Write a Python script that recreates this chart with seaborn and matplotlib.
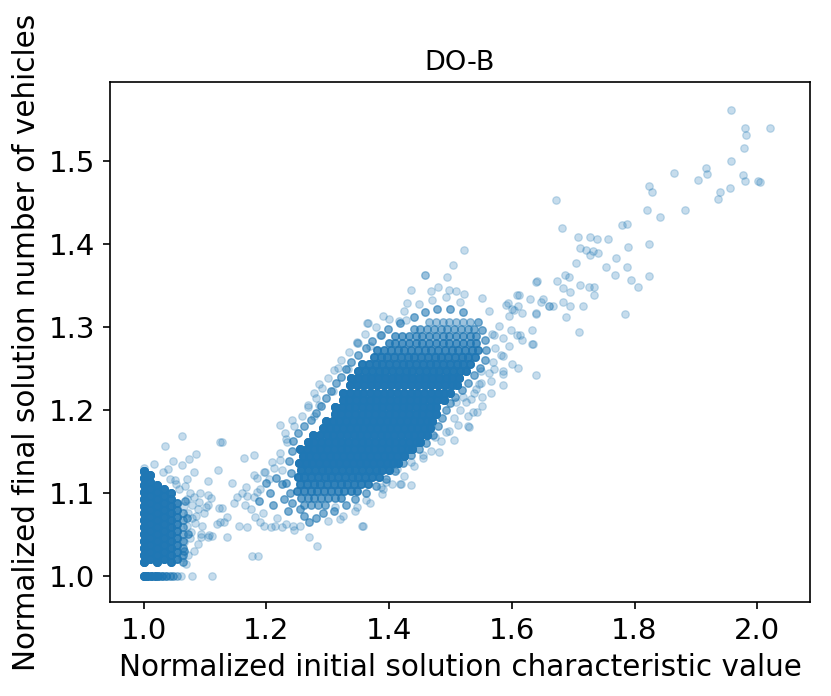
import numpy as np
import pandas as pd
import matplotlib
matplotlib.use("Agg")
import matplotlib.pyplot as plt
import seaborn as sns

# ---------------- data ----------------
# Dense core of the main cloud: one y level per row, x positions per row, overlap count per row
core_y = [1.085, 1.0935, 1.102, 1.1105, 1.119, 1.1275, 1.136, 1.1445, 1.153, 1.1615,
          1.170, 1.1785, 1.187, 1.1955, 1.204, 1.2125, 1.221, 1.2295, 1.238, 1.2465,
          1.255, 1.2635, 1.272, 1.2805, 1.289, 1.2975, 1.306]
core_x = [
    [1.262, 1.273, 1.284, 1.295],
    [1.256, 1.267, 1.278, 1.289, 1.300, 1.311, 1.322],
    [1.250, 1.261, 1.272, 1.283, 1.294, 1.305, 1.316, 1.327, 1.338, 1.348],
    [1.255, 1.266, 1.277, 1.288, 1.299, 1.310, 1.321, 1.332, 1.343, 1.354, 1.365],
    [1.251, 1.262, 1.273, 1.284, 1.295, 1.306, 1.317, 1.328, 1.339, 1.350, 1.361, 1.372, 1.383],
    [1.257, 1.268, 1.279, 1.290, 1.301, 1.312, 1.323, 1.334, 1.345, 1.356, 1.367, 1.378, 1.389, 1.400],
    [1.253, 1.264, 1.275, 1.286, 1.297, 1.308, 1.319, 1.330, 1.341, 1.352, 1.363, 1.374, 1.385, 1.396, 1.407, 1.415],
    [1.259, 1.270, 1.281, 1.292, 1.303, 1.314, 1.325, 1.336, 1.347, 1.358, 1.369, 1.380, 1.391, 1.402, 1.413, 1.424],
    [1.255, 1.266, 1.277, 1.288, 1.299, 1.310, 1.321, 1.332, 1.343, 1.354, 1.365, 1.376, 1.387, 1.398, 1.409, 1.420, 1.431, 1.438],
    [1.267, 1.278, 1.289, 1.300, 1.311, 1.322, 1.333, 1.344, 1.355, 1.366, 1.377, 1.388, 1.399, 1.410, 1.421, 1.432, 1.443, 1.450],
    [1.276, 1.287, 1.298, 1.309, 1.320, 1.331, 1.342, 1.353, 1.364, 1.375, 1.386, 1.397, 1.408, 1.419, 1.430, 1.441, 1.452, 1.461],
    [1.292, 1.303, 1.314, 1.325, 1.336, 1.347, 1.358, 1.369, 1.380, 1.391, 1.402, 1.413, 1.424, 1.435, 1.446, 1.457, 1.466],
    [1.297, 1.308, 1.319, 1.330, 1.341, 1.352, 1.363, 1.374, 1.385, 1.396, 1.407, 1.418, 1.429, 1.440, 1.451, 1.462, 1.470],
    [1.311, 1.322, 1.333, 1.344, 1.355, 1.366, 1.377, 1.388, 1.399, 1.410, 1.421, 1.432, 1.443, 1.454, 1.465, 1.476],
    [1.312, 1.323, 1.334, 1.345, 1.356, 1.367, 1.378, 1.389, 1.400, 1.411, 1.422, 1.433, 1.444, 1.455, 1.466, 1.477],
    [1.324, 1.335, 1.346, 1.357, 1.368, 1.379, 1.390, 1.401, 1.412, 1.423, 1.434, 1.445, 1.456, 1.467, 1.478, 1.489],
    [1.325, 1.336, 1.347, 1.358, 1.369, 1.380, 1.391, 1.402, 1.413, 1.424, 1.435, 1.446, 1.457, 1.468, 1.479, 1.490, 1.500],
    [1.337, 1.348, 1.359, 1.370, 1.381, 1.392, 1.403, 1.414, 1.425, 1.436, 1.447, 1.458, 1.469, 1.480, 1.491, 1.502, 1.510],
    [1.338, 1.349, 1.360, 1.371, 1.382, 1.393, 1.404, 1.415, 1.426, 1.437, 1.448, 1.459, 1.470, 1.481, 1.492, 1.503, 1.514],
    [1.350, 1.361, 1.372, 1.383, 1.394, 1.405, 1.416, 1.427, 1.438, 1.449, 1.460, 1.471, 1.482, 1.493, 1.504, 1.515, 1.526],
    [1.356, 1.367, 1.378, 1.389, 1.400, 1.411, 1.422, 1.433, 1.444, 1.455, 1.466, 1.477, 1.488, 1.499, 1.510, 1.521, 1.532],
    [1.375, 1.386, 1.397, 1.408, 1.419, 1.430, 1.441, 1.452, 1.463, 1.474, 1.485, 1.496, 1.507, 1.518, 1.529, 1.540],
    [1.381, 1.392, 1.403, 1.414, 1.425, 1.436, 1.447, 1.458, 1.469, 1.480, 1.491, 1.502, 1.513, 1.524, 1.535, 1.545],
    [1.399, 1.410, 1.421, 1.432, 1.443, 1.454, 1.465, 1.476, 1.487, 1.498, 1.509, 1.520, 1.531, 1.542],
    [1.410, 1.421, 1.432, 1.443, 1.454, 1.465, 1.476, 1.487, 1.498, 1.509, 1.520, 1.531, 1.542],
    [1.440, 1.451, 1.462, 1.473, 1.484, 1.495, 1.506, 1.517, 1.528, 1.539],
    [1.465, 1.476, 1.487, 1.498, 1.509, 1.520, 1.531],
]
core_n = [3, 4, 6, 8, 10, 12, 14, 14, 14, 14, 14, 14, 14, 14, 14, 14, 14, 14, 14, 12, 10, 8, 6, 5, 4, 3, 2]

# Cluster at x ~ 1.0: one x per column, y positions per column, overlap count per column
lc_x = [1.000, 1.011, 1.022, 1.033, 1.044, 1.055, 1.064]
lc_y = [
    [1.016, 1.0245, 1.033, 1.0415, 1.050, 1.0585, 1.067, 1.0755, 1.084, 1.0925, 1.101, 1.1095, 1.118, 1.126],
    [1.020, 1.0285, 1.037, 1.0455, 1.054, 1.0625, 1.071, 1.0795, 1.088, 1.0965, 1.105, 1.1135, 1.121],
    [1.016, 1.0245, 1.033, 1.0415, 1.050, 1.0585, 1.067, 1.0755, 1.084, 1.0925, 1.101, 1.1095],
    [1.020, 1.0285, 1.037, 1.0455, 1.054, 1.0625, 1.071, 1.0795, 1.088, 1.0965, 1.105],
    [1.016, 1.0245, 1.033, 1.0415, 1.050, 1.0585, 1.067, 1.0755, 1.084, 1.0925, 1.100],
    [1.020, 1.0285, 1.037, 1.0455, 1.054, 1.0625, 1.071, 1.0795, 1.088],
    [1.016, 1.0245, 1.033, 1.0415, 1.050, 1.0585, 1.067, 1.0755],
]
lc_n = [16, 14, 14, 13, 11, 7, 3]

# Row of points at y = 1.0
base_x = [1.000, 1.006, 1.012, 1.018, 1.024, 1.030, 1.036, 1.042, 1.048, 1.054, 1.060, 1.078, 1.112]
base_n = [14, 12, 10, 9, 8, 6, 5, 3, 3, 2, 1, 1, 1]

# Medium-density ring around the core (three overlaps each)
ring_x = [1.238, 1.232, 1.240, 1.236, 1.241, 1.244, 1.252, 1.262, 1.272, 1.281, 1.289, 1.297, 1.305, 1.314,
          1.322, 1.329, 1.338, 1.349, 1.362, 1.372, 1.386, 1.398, 1.418, 1.440, 1.458, 1.478, 1.500, 1.520,
          1.310, 1.330, 1.345, 1.362, 1.378, 1.395, 1.410, 1.422, 1.436, 1.448, 1.460, 1.472, 1.480, 1.486,
          1.492, 1.500, 1.508, 1.518, 1.528, 1.538, 1.548, 1.556, 1.558, 1.557, 1.552, 1.545,
          1.188, 1.205, 1.210, 1.225, 1.228, 1.235, 1.242, 1.255, 1.262, 1.270, 1.280, 1.292, 1.215, 1.200,
          1.068, 1.072, 1.070, 1.066]
ring_y = [1.100, 1.112, 1.124, 1.138, 1.150, 1.162, 1.172, 1.180, 1.188, 1.196, 1.205, 1.214, 1.223, 1.232,
          1.240, 1.249, 1.258, 1.266, 1.275, 1.283, 1.291, 1.298, 1.305, 1.312, 1.318, 1.322, 1.322, 1.318,
          1.078, 1.085, 1.092, 1.100, 1.108, 1.117, 1.126, 1.136, 1.145, 1.153, 1.160, 1.170, 1.180, 1.190,
          1.200, 1.208, 1.216, 1.224, 1.233, 1.242, 1.250, 1.260, 1.272, 1.284, 1.296, 1.306,
          1.090, 1.100, 1.085, 1.110, 1.092, 1.078, 1.088, 1.080, 1.072, 1.065, 1.070, 1.075, 1.118, 1.112,
          1.090, 1.050, 1.070, 1.030]

# Single, loosely scattered points
single_x = [
    # tail towards x = 2
    1.958, 1.980, 2.021, 1.982, 1.979, 1.957, 1.916, 1.918, 1.865, 1.903, 1.976, 1.980, 2.002, 2.004,
    1.955, 1.940, 1.936, 1.824, 1.828, 1.821, 1.882, 1.842, 1.672, 1.681, 1.779, 1.787, 1.708, 1.727,
    1.739, 1.756, 1.823, 1.789, 1.711, 1.721, 1.732, 1.727, 1.741, 1.705, 1.754, 1.770, 1.787, 1.768,
    1.824, 1.794, 1.806, 1.687, 1.693, 1.673, 1.641, 1.711, 1.725, 1.734, 1.684, 1.695, 1.734, 1.629,
    1.651, 1.647, 1.609, 1.593, 1.603, 1.610, 1.661, 1.667, 1.683, 1.695, 1.716, 1.640, 1.688, 1.784,
    1.595, 1.633, 1.710, 1.579, 1.598, 1.585, 1.609, 1.617, 1.634, 1.595, 1.583, 1.601, 1.610, 1.639,
    1.585, 1.585,
    # fringe of the main cloud
    1.436, 1.429, 1.390, 1.364, 1.416, 1.428, 1.385, 1.348, 1.368, 1.317, 1.333, 1.286, 1.278, 1.268,
    1.285, 1.309, 1.277, 1.241, 1.222, 1.230, 1.233, 1.128, 1.164, 1.180, 1.121, 1.105, 1.144, 1.166,
    1.179, 1.196, 1.209, 1.204, 1.185, 1.169, 1.152, 1.147, 1.105, 1.104, 1.123, 1.136, 1.120, 1.131,
    1.155, 1.169, 1.182, 1.196, 1.136, 1.106, 1.093, 1.088, 1.176, 1.186, 1.214, 1.225, 1.244, 1.255,
    1.269, 1.283, 1.325, 1.357, 1.312, 1.347, 1.363, 1.390, 1.420, 1.436, 1.412,
    1.522, 1.504, 1.458, 1.495, 1.479, 1.468, 1.498, 1.509, 1.522, 1.611, 1.660, 1.552, 1.590, 1.601,
    1.639, 1.617, 1.563, 1.613, 1.633, 1.571, 1.585, 1.571, 1.585, 1.566, 1.549, 1.547, 1.566, 1.541,
    1.551, 1.533, 1.551, 1.536, 1.544, 1.528, 1.512, 1.528, 1.509, 1.520,
    1.482, 1.505, 1.493, 1.530, 1.474, 1.455, 1.436, 1.417, 1.395, 1.387, 1.355, 1.639, 1.366, 1.459, 1.350,
    1.225, 1.222, 1.232, 1.245, 1.258, 1.268, 1.280, 1.290, 1.300, 1.310, 1.322, 1.335, 1.348, 1.360,
    1.378, 1.400, 1.425, 1.448, 1.470, 1.492, 1.515,
    1.320, 1.345, 1.368, 1.388, 1.405, 1.425, 1.440, 1.455, 1.468, 1.485, 1.498, 1.505, 1.515, 1.525,
    1.538, 1.550, 1.562, 1.570, 1.572, 1.568,
    1.175, 1.195, 1.218, 1.190, 1.180, 1.165, 1.160, 1.212, 1.222, 1.198, 1.185, 1.245, 1.232, 1.208,
    1.190, 1.300,
    # fringe of the cluster at x ~ 1.0
    1.063, 1.034, 1.017, 1.048, 1.085, 1.073, 1.063, 1.124, 1.082, 1.039, 1.032, 1.071, 1.051, 1.042,
    1.110, 1.101, 1.128, 1.090, 1.085, 1.125, 1.093, 1.112, 1.104, 1.077, 1.079, 1.069,
    1.068, 1.075, 1.070, 1.082, 1.066, 1.078, 1.088, 1.072, 1.084, 1.070, 1.076, 1.066, 1.082, 1.072,
    1.062, 1.058, 1.052, 1.095, 1.098, 1.091, 1.000, 1.000,
]
single_y = [
    1.5625, 1.541, 1.541, 1.532, 1.516, 1.500, 1.492, 1.485, 1.486, 1.478, 1.484, 1.476, 1.476, 1.475,
    1.468, 1.463, 1.455, 1.471, 1.463, 1.441, 1.441, 1.433, 1.453, 1.420, 1.423, 1.425, 1.409, 1.409,
    1.406, 1.406, 1.400, 1.397, 1.395, 1.393, 1.392, 1.387, 1.389, 1.377, 1.372, 1.383, 1.372, 1.363,
    1.362, 1.357, 1.348, 1.363, 1.360, 1.356, 1.356, 1.351, 1.348, 1.348, 1.347, 1.342, 1.339, 1.334,
    1.334, 1.330, 1.339, 1.329, 1.321, 1.326, 1.325, 1.325, 1.330, 1.325, 1.325, 1.316, 1.312, 1.316,
    1.313, 1.297, 1.294, 1.301, 1.297, 1.287, 1.290, 1.285, 1.279, 1.277, 1.266, 1.255, 1.251, 1.242,
    1.247, 1.230,
    1.345, 1.329, 1.313, 1.305, 1.307, 1.309, 1.291, 1.281, 1.277, 1.251, 1.249, 1.231, 1.220, 1.206,
    1.206, 1.223, 1.193, 1.188, 1.182, 1.172, 1.161, 1.161, 1.142, 1.145, 1.128, 1.114, 1.112, 1.107,
    1.121, 1.125, 1.137, 1.117, 1.101, 1.096, 1.095, 1.088, 1.097, 1.085, 1.081, 1.071, 1.062, 1.065,
    1.060, 1.059, 1.071, 1.060, 1.047, 1.049, 1.050, 1.038, 1.024, 1.024, 1.060, 1.059, 1.060, 1.060,
    1.047, 1.036, 1.072, 1.060, 1.083, 1.083, 1.091, 1.105, 1.111, 1.109, 1.129,
    1.393, 1.375, 1.363, 1.360, 1.349, 1.343, 1.345, 1.343, 1.340, 1.339, 1.326, 1.335, 1.327, 1.322,
    1.317, 1.317, 1.319, 1.290, 1.280, 1.291, 1.265, 1.249, 1.243, 1.235, 1.247, 1.231, 1.220, 1.225,
    1.215, 1.213, 1.205, 1.197, 1.197, 1.193, 1.182, 1.181, 1.209, 1.215,
    1.149, 1.164, 1.173, 1.179, 1.167, 1.145, 1.137, 1.111, 1.113, 1.107, 1.060, 1.355, 1.305, 1.363, 1.281,
    1.128, 1.148, 1.165, 1.180, 1.193, 1.203, 1.214, 1.226, 1.238, 1.248, 1.260, 1.270, 1.282, 1.292,
    1.300, 1.310, 1.320, 1.328, 1.333, 1.336, 1.330,
    1.068, 1.078, 1.088, 1.098, 1.110, 1.120, 1.132, 1.142, 1.150, 1.162, 1.175, 1.190, 1.200, 1.210,
    1.220, 1.232, 1.244, 1.258, 1.275, 1.292,
    1.080, 1.075, 1.070, 1.105, 1.095, 1.085, 1.100, 1.130, 1.140, 1.125, 1.118, 1.055, 1.062, 1.058,
    1.065, 1.066,
    1.168, 1.156, 1.135, 1.138, 1.147, 1.141, 1.133, 1.161, 1.125, 1.129, 1.125, 1.117, 1.115, 1.116,
    1.093, 1.083, 1.081, 1.089, 1.072, 1.065, 1.047, 1.048, 1.047, 1.053, 1.069, 1.014,
    1.108, 1.100, 1.092, 1.095, 1.084, 1.085, 1.080, 1.076, 1.064, 1.060, 1.045, 1.040, 1.030, 1.025,
    1.022, 1.105, 1.110, 1.060, 1.075, 1.100, 1.130, 1.124,
]

title = "DO-B"
x_label = "Normalized initial solution characteristic value"
y_label = "Normalized final solution number of vehicles"

# ---------------- build the point table ----------------
px, py, pn = [], [], []
for yv, xrow, nv in zip(core_y, core_x, core_n):
    px += xrow; py += [yv] * len(xrow); pn += [nv] * len(xrow)
for xv, ycol, nv in zip(lc_x, lc_y, lc_n):
    px += [xv] * len(ycol); py += ycol; pn += [nv] * len(ycol)
px += base_x; py += [1.0] * len(base_x); pn += base_n
px += ring_x; py += ring_y; pn += [3] * len(ring_x)
px += single_x; py += single_y; pn += [1] * len(single_x)

pn = np.array(pn)
df = pd.DataFrame({"x": np.repeat(np.array(px), pn), "y": np.repeat(np.array(py), pn)})

# ---------------- plot ----------------
sns.set_style("ticks")
plt.rcParams["font.family"] = ["DejaVu Sans"]
plt.rcParams["text.color"] = "black"
plt.rcParams["axes.labelcolor"] = "black"
plt.rcParams["xtick.color"] = "black"
plt.rcParams["ytick.color"] = "black"
plt.rcParams["axes.edgecolor"] = "black"
plt.rcParams["axes.linewidth"] = 0.8

fig = plt.figure(figsize=(831 / 150, 696 / 150), dpi=150)
ax = fig.add_axes([110 / 831, 1 - 602 / 696, (810 - 110) / 831, (602 - 82) / 696])

c0 = "#1f77b4"
sns.scatterplot(data=df, x="x", y="y", ax=ax, color=c0, alpha=0.25, s=13,
                edgecolor=c0, linewidth=0.6, legend=False)

ax.set_xlim(0.945, 2.086)
ax.set_ylim(0.968, 1.596)
ax.set_xticks([1.0, 1.2, 1.4, 1.6, 1.8, 2.0])
ax.set_yticks([1.0, 1.1, 1.2, 1.3, 1.4, 1.5])
ax.tick_params(labelsize=14, length=3.5, width=0.8, colors="black")
for sp in ax.spines.values():
    sp.set_visible(True)
    sp.set_color("black")
ax.set_title(title, fontsize=13, color="black")
ax.set_xlabel(x_label, fontsize=14.2, color="black")
ax.set_ylabel(y_label, fontsize=14.2, color="black")

fig.savefig("out.png", dpi=150)
